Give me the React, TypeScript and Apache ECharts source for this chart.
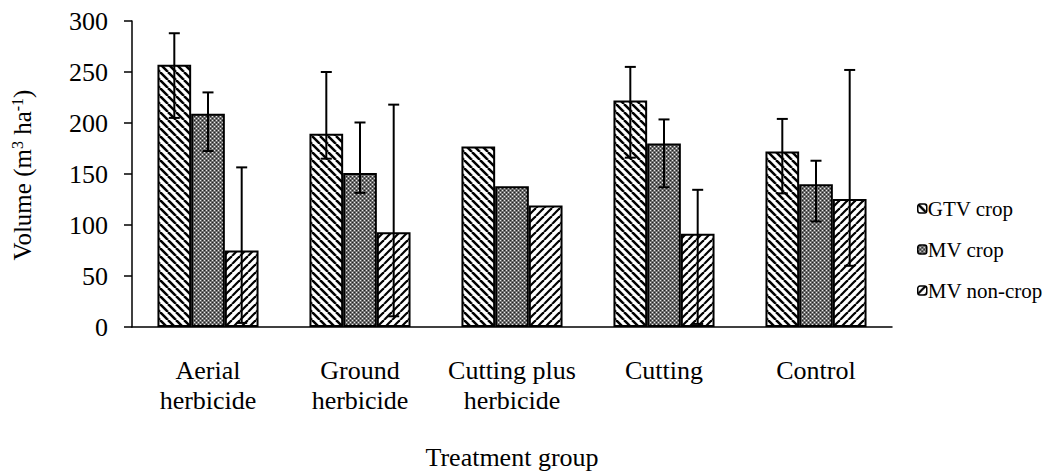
import React, { useEffect, useRef } from "react";
import * as echarts from "echarts";

const categories = ["Aerial\nherbicide", "Ground\nherbicide", "Cutting plus\nherbicide", "Cutting", "Control"];
const seriesNames = ["GTV crop", "MV crop", "MV non-crop"];
const gtvCrop = [257, 189.5, 177, 222, 172];
const mvCrop = [209, 151, 138, 180, 140];
const mvNonCrop = [75, 93, 119, 91.5, 125.5];
// error bar bounds (null = no error bar)
const gtvLow = [205, 165, null, 166, 131];
const gtvHigh = [288, 250, null, 255, 204];
const mvLow = [172.5, 131.5, null, 137, 103.5];
const mvHigh = [230, 200.5, null, 203.5, 163];
const nonLow = [4, 10.5, null, 3, 60];
const nonHigh = [156.5, 218, null, 134.5, 252];
const yTicks = { min: 0, max: 300, interval: 50 };

const FONT = "'Liberation Serif', 'Times New Roman', serif";
const GAP = 0.335;

function stripe(dir: number, lw: number): HTMLCanvasElement {
  const s = 8;
  const c = document.createElement("canvas");
  c.width = s;
  c.height = s;
  const g = c.getContext("2d")!;
  g.fillStyle = "#fff";
  g.fillRect(0, 0, s, s);
  g.strokeStyle = "#000";
  g.lineWidth = lw;
  for (const o of [-s, 0, s]) {
    g.beginPath();
    if (dir > 0) {
      g.moveTo(o, 0);
      g.lineTo(o + s, s);
    } else {
      g.moveTo(o + s, 0);
      g.lineTo(o, s);
    }
    g.stroke();
  }
  return c;
}

function dots(): HTMLCanvasElement {
  const c = document.createElement("canvas");
  c.width = 4;
  c.height = 4;
  const g = c.getContext("2d")!;
  g.fillStyle = "#6e6e6e";
  g.fillRect(0, 0, 4, 4);
  g.fillStyle = "#e8e8e8";
  g.fillRect(0, 0, 1, 1);
  g.fillRect(2, 2, 1, 1);
  g.fillStyle = "#222";
  g.fillRect(2, 0, 1, 1);
  g.fillRect(0, 2, 1, 1);
  return c;
}

function errData(lo: (number | null)[], hi: (number | null)[]) {
  const out: number[][] = [];
  lo.forEach((l, i) => {
    const h = hi[i];
    if (l != null && h != null) out.push([i, l, h]);
  });
  return out;
}

export default function App() {
  const ref = useRef<HTMLDivElement>(null);
  useEffect(() => {
    if (!ref.current) return;
    const chart = echarts.init(ref.current, null, { renderer: "svg" });
    const patterns = [stripe(1, 2.5), dots(), stripe(-1, 2.2)];
    const values = [gtvCrop, mvCrop, mvNonCrop];
    const errs = [errData(gtvLow, gtvHigh), errData(mvLow, mvHigh), errData(nonLow, nonHigh)];

    const barSeries = seriesNames.map((name, i) => ({
      name,
      type: "bar",
      data: values[i],
      barGap: "0%",
      barCategoryGap: GAP * 100 + "%",
      itemStyle: {
        color: { image: patterns[i], repeat: "repeat" },
        borderColor: "#000",
        borderWidth: 2,
      },
    }));

    const errSeries = errs.map((d, i) => ({
      name: "err" + i,
      type: "custom",
      data: d,
      z: 5,
      encode: { x: 0, y: [1, 2] },
      renderItem: (params: any, api: any) => {
        const xi = api.value(0);
        const lo = api.coord([xi, api.value(1)]);
        const hi = api.coord([xi, api.value(2)]);
        const band = api.size([1, 0])[0];
        const bw = (band * (1 - GAP)) / 3;
        const x = lo[0] + (i - 1) * bw;
        const cap = 5.5;
        const st = { stroke: "#000", lineWidth: 2 };
        return {
          type: "group",
          children: [
            { type: "line", shape: { x1: x, y1: hi[1], x2: x, y2: lo[1] }, style: st },
            { type: "line", shape: { x1: x - cap, y1: hi[1], x2: x + cap, y2: hi[1] }, style: st },
            { type: "line", shape: { x1: x - cap, y1: lo[1], x2: x + cap, y2: lo[1] }, style: st },
          ],
        };
      },
    }));

    chart.setOption({
      animation: false,
      backgroundColor: "#fff",
      textStyle: { fontFamily: FONT, color: "#000" },
      grid: { left: 132, right: 161, top: 21, bottom: 146, outerBoundsMode: "none", containLabel: false },
      legend: {
        data: seriesNames,
        orient: "vertical",
        left: 917,
        top: 198,
        padding: 0,
        itemWidth: 9,
        itemHeight: 9,
        itemGap: 20,
        itemStyle: { borderColor: "#000", borderWidth: 1.5 },
        textStyle: { fontFamily: FONT, fontSize: 21, color: "#000", padding: [0, 0, 0, -4] },
      },
      xAxis: {
        type: "category",
        data: categories,
        axisLine: { lineStyle: { color: "#000", width: 1.5 } },
        axisTick: { show: false },
        axisLabel: { fontFamily: FONT, fontSize: 26, lineHeight: 30, color: "#000", margin: 28, interval: 0 },
        splitLine: { show: false },
      },
      yAxis: {
        type: "value",
        min: yTicks.min,
        max: yTicks.max,
        interval: yTicks.interval,
        axisLine: { show: true, lineStyle: { color: "#000", width: 1.5 } },
        axisTick: { show: true, length: 8, lineStyle: { color: "#000", width: 1.5 } },
        axisLabel: { fontFamily: FONT, fontSize: 26, color: "#000", margin: 24 },
        splitLine: { show: false },
      },
      graphic: [
        {
          type: "text",
          x: 22,
          y: 175,
          rotation: Math.PI / 2,
          style: {
            text: "Volume (m{sup|3} ha{sup|-1})",
            fontFamily: FONT,
            fontSize: 25,
            fill: "#000",
            align: "center",
            verticalAlign: "middle",
            rich: {
              sup: { fontFamily: FONT, fontSize: 16, verticalAlign: "top", fill: "#000" } as any,
            },
          },
        },
        {
          type: "text",
          x: 512,
          y: 457,
          style: {
            text: "Treatment group",
            fontFamily: FONT,
            fontSize: 26,
            fill: "#000",
            align: "center",
            verticalAlign: "middle",
          },
        },
      ],
      series: [...barSeries, ...errSeries],
    });
    return () => chart.dispose();
  }, []);
  return <div ref={ref} style={{ position: "fixed", left: 0, top: 0, width: 1053, height: 473 }} />;
}
